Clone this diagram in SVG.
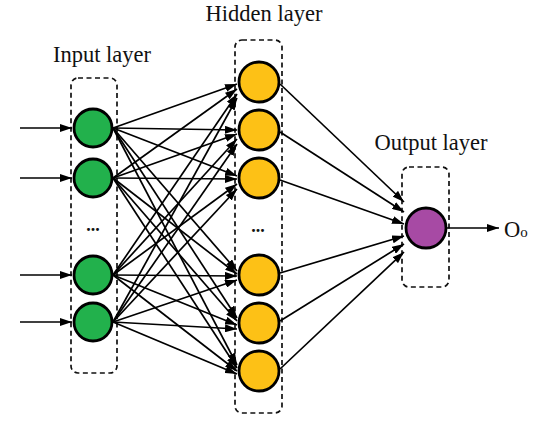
<svg xmlns="http://www.w3.org/2000/svg" width="550" height="429" viewBox="0 0 550 429">
<defs>
<marker id="ah" markerUnits="userSpaceOnUse" markerWidth="12" markerHeight="8" refX="12" refY="4" orient="auto">
<path d="M0,0 L12,4 L0,8 z" fill="#000"/>
</marker>
<style>
.lbl{font-family:"Liberation Serif","Times New Roman",serif;font-size:22.5px;fill:#111}
.box{fill:none;stroke:#111;stroke-width:1.7;stroke-dasharray:5,3.5}
.n{stroke:#000;stroke-width:2.8}
.in{fill:#22b14c}
.hid{fill:#fdc116}
.out{fill:#a74aa4}
.c line{stroke:#000;stroke-width:1.7;marker-end:url(#ah)}
.dots{font-family:"Liberation Serif",serif;font-size:18px;font-weight:bold;fill:#111}
</style>
</defs>
<rect width="550" height="429" fill="#fff"/>

<text class="lbl" x="102" y="62" text-anchor="middle">Input layer</text>
<text class="lbl" x="264" y="21" text-anchor="middle">Hidden layer</text>
<text class="lbl" x="431" y="150" text-anchor="middle">Output layer</text>

<rect class="box" x="71" y="78" width="46" height="295" rx="7"/>
<rect class="box" x="235" y="40" width="47" height="373" rx="7"/>
<rect class="box" x="402" y="167" width="47" height="120" rx="7"/>

<g class="c" id="connectors">
<line x1="20" y1="128" x2="72" y2="128"/>
<line x1="20" y1="178" x2="72" y2="178"/>
<line x1="20" y1="275" x2="72" y2="275"/>
<line x1="20" y1="322" x2="72" y2="322"/>

<line x1="113" y1="128" x2="237" y2="84"/>
<line x1="113" y1="128" x2="237" y2="130"/>
<line x1="113" y1="128" x2="237" y2="176"/>
<line x1="113" y1="128" x2="237" y2="271"/>
<line x1="113" y1="128" x2="237" y2="318"/>
<line x1="113" y1="128" x2="237" y2="365"/>

<line x1="113" y1="178" x2="237" y2="89"/>
<line x1="113" y1="178" x2="237" y2="134"/>
<line x1="113" y1="178" x2="237" y2="179"/>
<line x1="113" y1="178" x2="237" y2="274"/>
<line x1="113" y1="178" x2="237" y2="321"/>
<line x1="113" y1="178" x2="237" y2="368"/>

<line x1="113" y1="275" x2="237" y2="94"/>
<line x1="113" y1="275" x2="237" y2="139"/>
<line x1="113" y1="275" x2="237" y2="184"/>
<line x1="113" y1="275" x2="237" y2="276"/>
<line x1="113" y1="275" x2="237" y2="325"/>
<line x1="113" y1="275" x2="237" y2="371"/>

<line x1="113" y1="322" x2="237" y2="98"/>
<line x1="113" y1="322" x2="237" y2="144"/>
<line x1="113" y1="322" x2="237" y2="189"/>
<line x1="113" y1="322" x2="237" y2="280"/>
<line x1="113" y1="322" x2="237" y2="329"/>
<line x1="113" y1="322" x2="237" y2="374"/>

<line x1="280" y1="84" x2="404" y2="202"/>
<line x1="280" y1="132" x2="404" y2="212"/>
<line x1="280" y1="180" x2="404" y2="224"/>
<line x1="280" y1="273" x2="404" y2="236"/>
<line x1="280" y1="321" x2="404" y2="244"/>
<line x1="280" y1="369" x2="404" y2="252"/>

<line x1="447" y1="228" x2="499" y2="228"/>
</g>

<g id="input1"><circle class="n in" cx="93" cy="128" r="19"/></g>
<g id="input2"><circle class="n in" cx="93" cy="178" r="19"/></g>
<g id="input-dots"><text class="dots" x="93" y="231" text-anchor="middle">...</text></g>
<g id="input3"><circle class="n in" cx="93" cy="275" r="19"/></g>
<g id="input4"><circle class="n in" cx="93" cy="322" r="19"/></g>

<g id="hidden1"><circle class="n hid" cx="259" cy="82" r="20"/></g>
<g id="hidden2"><circle class="n hid" cx="259" cy="130" r="20"/></g>
<g id="hidden3"><circle class="n hid" cx="259" cy="178" r="20"/></g>
<g id="hidden-dots"><text class="dots" x="258" y="232" text-anchor="middle">...</text></g>
<g id="hidden4"><circle class="n hid" cx="259" cy="275" r="20"/></g>
<g id="hidden5"><circle class="n hid" cx="259" cy="323" r="20"/></g>
<g id="hidden6"><circle class="n hid" cx="259" cy="371" r="20"/></g>

<g id="output"><circle class="n out" cx="426" cy="228" r="20"/></g>
<g id="output-label"><text class="lbl" x="504" y="237">O<tspan font-size="15">o</tspan></text></g>
</svg>
